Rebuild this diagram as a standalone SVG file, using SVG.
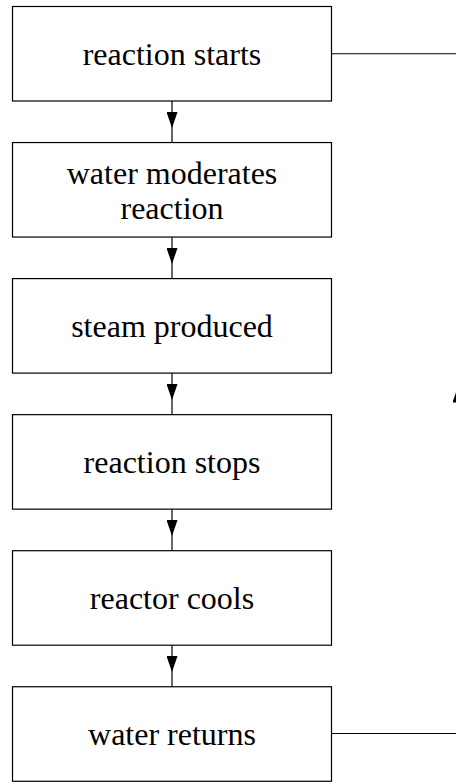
<svg xmlns="http://www.w3.org/2000/svg" width="456" height="783" viewBox="0 0 456 783">
<style>
.box{fill:#fff;stroke:#000;stroke-width:1.2}
.lbl{font-family:"Liberation Serif","Times New Roman",serif;font-size:32px;fill:#000;text-anchor:middle}
.ln{fill:none;stroke:#000;stroke-width:1.2}
</style>
<defs>
<marker id="ah" markerUnits="userSpaceOnUse" viewBox="0 0 16 11" markerWidth="16" markerHeight="11" refX="16" refY="5.5" orient="auto">
<path d="M0,0 L16,5.5 L0,11 z" fill="#000"/>
</marker>
</defs>
<g id="connectors">
<polyline class="ln" points="172,101 172,128 172,142.55" marker-mid="url(#ah)"/>
<polyline class="ln" points="172,237.05 172,264 172,278.6" marker-mid="url(#ah)"/>
<polyline class="ln" points="172,373.1 172,400 172,414.65" marker-mid="url(#ah)"/>
<polyline class="ln" points="172,509.15 172,536 172,550.7" marker-mid="url(#ah)"/>
<polyline class="ln" points="172,645.2 172,672 172,686.75" marker-mid="url(#ah)"/>
<polyline class="ln" points="331.5,733.5 458,733.5 458,53.75 331.5,53.75"/>
<line class="ln" x1="458" y1="733.5" x2="458" y2="386.5" marker-end="url(#ah)"/>
</g>
<g id="n1"><rect class="box" x="12.5" y="6.5" width="319" height="94.5"/><text class="lbl" x="172" y="65">reaction starts</text></g>
<g id="n2"><rect class="box" x="12.5" y="142.55" width="319" height="94.5"/><text class="lbl" x="172" y="184">water moderates</text><text class="lbl" x="172" y="219">reaction</text></g>
<g id="n3"><rect class="box" x="12.5" y="278.6" width="319" height="94.5"/><text class="lbl" x="172" y="337">steam produced</text></g>
<g id="n4"><rect class="box" x="12.5" y="414.65" width="319" height="94.5"/><text class="lbl" x="172" y="473">reaction stops</text></g>
<g id="n5"><rect class="box" x="12.5" y="550.7" width="319" height="94.5"/><text class="lbl" x="172" y="609">reactor cools</text></g>
<g id="n6"><rect class="box" x="12.5" y="686.75" width="319" height="94.5"/><text class="lbl" x="172" y="745">water returns</text></g>
</svg>
